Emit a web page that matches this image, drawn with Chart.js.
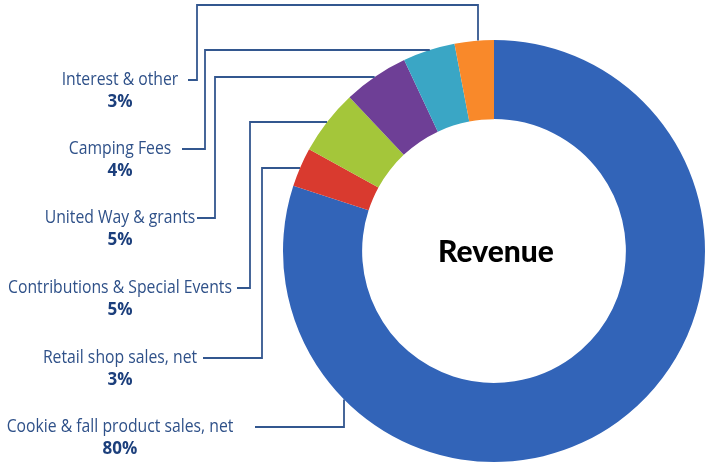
<!DOCTYPE html>
<html lang="en">
<head>
<meta charset="utf-8">
<title>Revenue</title>
<script src="https://cdn.jsdelivr.net/npm/chart.js@4.4.0/dist/chart.umd.min.js"></script>
<style>
html, body { margin: 0; padding: 0; background: #fff; }
#wrap { width: 705px; height: 465px; position: relative; }
</style>
</head>
<body>
<div id="wrap"><canvas id="chart"></canvas></div>
<script>
// data, in clockwise order from 12 o'clock
const categories = ['Cookie & fall product sales, net', 'Retail shop sales, net', 'Contributions & Special Events', 'United Way & grants', 'Camping Fees', 'Interest & other'];
const shares = [80, 3, 5, 5, 4, 3];
const sliceColors = ['#3264b8', '#d93a2f', '#a4c63a', '#6e3f96', '#3aa6c5', '#f9892a'];

// leader layout: label row y, elbow x, top run y (null = straight into the ring), stub start x
const labelY = [427, 358, 288, 218, 149, 80];
const elbowX = [344, 262, 250, 215, 205, 197];
const runY   = [null, 168, 122, 77, 50, 5];
const dropX  = [null, null, null, null, null, 478];
const stubX  = [255, 203, 237, 197, 182, 188];

const labelsPlugin = {
	id: 'leaders',
	afterDraw(chart) {
		const ctx = chart.ctx;
		const arc = chart.getDatasetMeta(0).data[0];
		const cx = arc.x, cy = arc.y, R = arc.outerRadius;
		ctx.save();
		ctx.strokeStyle = '#33578f';
		ctx.lineWidth = 1.8;
		for (let i = 0; i < categories.length; i++) {
			ctx.beginPath();
			ctx.moveTo(stubX[i], labelY[i]);
			ctx.lineTo(elbowX[i], labelY[i]);
			if (runY[i] === null) {
				// straight up into the ring edge
				ctx.lineTo(elbowX[i], cy + Math.sqrt(R * R - (elbowX[i] - cx) * (elbowX[i] - cx)));
			} else {
				ctx.lineTo(elbowX[i], runY[i]);
				if (dropX[i] === null) {
					ctx.lineTo(cx - Math.sqrt(R * R - (runY[i] - cy) * (runY[i] - cy)), runY[i]);
				} else {
					ctx.lineTo(dropX[i], runY[i]);
					ctx.lineTo(dropX[i], cy - Math.sqrt(R * R - (dropX[i] - cx) * (dropX[i] - cx)));
				}
			}
			ctx.stroke();
		}
		ctx.textAlign = 'center';
		ctx.textBaseline = 'middle';
		for (let i = 0; i < categories.length; i++) {
			ctx.save();
			ctx.translate(120, labelY[i]);
			ctx.scale(0.875, 1);
			ctx.font = '18px "Open Sans"';
			ctx.fillStyle = '#2f5189';
			ctx.fillText(categories[i], 0, 0);
			ctx.restore();
			ctx.font = 'bold 17px "Open Sans"';
			ctx.fillStyle = '#1c3f7c';
			ctx.fillText(shares[i] + '%', 120, labelY[i] + 22);
		}
		ctx.font = '900 30px Lato';
		ctx.fillStyle = '#000';
		ctx.fillText('Revenue', cx + 2, cy + 1);
		ctx.restore();
	}
};

new Chart(document.getElementById('chart'), {
	type: 'doughnut',
	data: {
		labels: categories,
		datasets: [{
			data: shares,
			backgroundColor: sliceColors,
			borderWidth: 0
		}]
	},
	options: {
		responsive: true,
		maintainAspectRatio: false,
		devicePixelRatio: 1,
		animation: false,
		cutout: '62.5%',
		layout: { padding: { left: 283, right: 0, top: 40, bottom: 3 } },
		plugins: {
			legend: { display: false },
			tooltip: { enabled: false }
		}
	},
	plugins: [labelsPlugin]
});
</script>
</body>
</html>
